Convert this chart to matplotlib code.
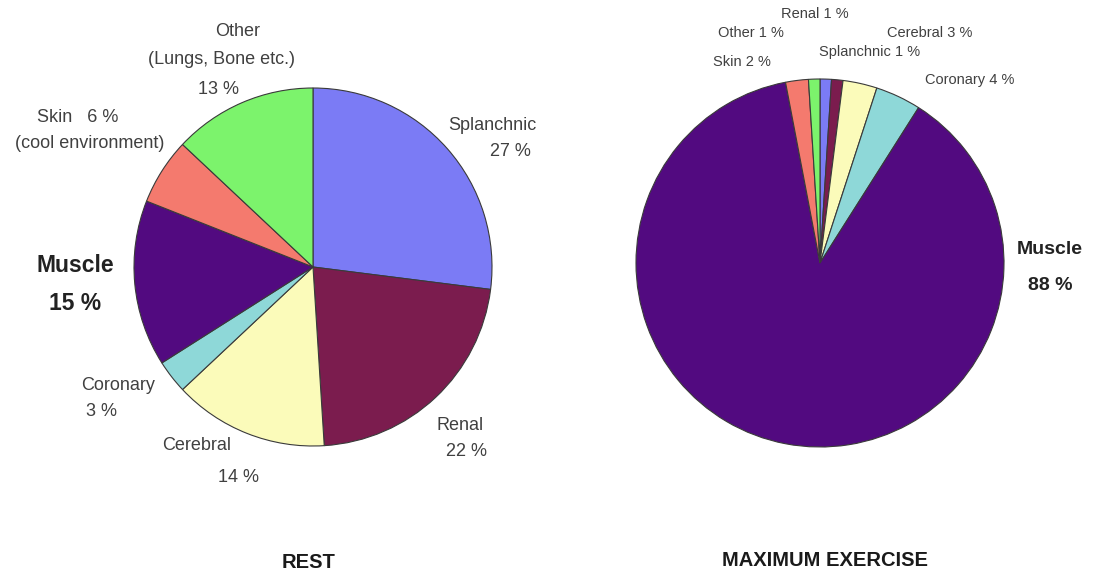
import matplotlib.pyplot as plt

plt.rcParams['font.family'] = ['Liberation Sans', 'DejaVu Sans']

# slice order, clockwise from 12 o'clock
organs = ["Splanchnic", "Renal", "Cerebral", "Coronary", "Muscle", "Skin", "Other"]
rest_pct = [27, 22, 14, 3, 15, 6, 13]
exercise_pct = [1, 1, 3, 4, 88, 2, 1]

colors = ["#7B7BF5", "#7B1C4E", "#FBFBBA", "#8ED8D8", "#520A80", "#F47A6E", "#7CF36C"]

W, H = 1099, 573
fig = plt.figure(figsize=(W / 100, H / 100), dpi=100)
ax = fig.add_axes([0, 0, 1, 1])

wedge_kw = dict(edgecolor="#3a3a3a", linewidth=0.8)
ax.pie(rest_pct, colors=colors, startangle=90, counterclock=False,
       center=(313, H - 267), radius=179, wedgeprops=wedge_kw)
ax.pie(exercise_pct, colors=colors, startangle=90, counterclock=False,
       center=(820, H - 263), radius=184, wedgeprops=wedge_kw)

ax.set_xlim(0, W)
ax.set_ylim(0, H)
ax.set_aspect("equal")
ax.axis("off")

GRAY = "#404040"


def label(x, y, s, size=13, bold=False, color=GRAY, ha="center"):
    ax.text(x, H - y, s, fontsize=size, fontweight="bold" if bold else "normal",
            color=color, ha=ha, va="center")


# REST labels
label(238, 32, "Other")
label(222, 60, "(Lungs, Bone etc.)")
label(218, 90, "13 %")
label(78, 117, "Skin   6 %")
label(90, 143, "(cool environment)")
label(492, 125, "Splanchnic")
label(510, 152, "27 %")
label(75, 266, "Muscle", size=16.5, bold=True, color="#222222")
label(75, 303, "15 %", size=16.5, bold=True, color="#222222")
label(118, 385, "Coronary")
label(101, 412, "3 %")
label(197, 445, "Cerebral")
label(238, 478, "14 %")
label(460, 425, "Renal")
label(466, 452, "22 %")

# MAXIMUM EXERCISE labels
label(815, 14, "Renal 1 %", size=10.5)
label(751, 33, "Other 1 %", size=10.5)
label(930, 33, "Cerebral 3 %", size=10.5)
label(870, 52, "Splanchnic 1 %", size=10.5)
label(742, 62, "Skin 2 %", size=10.5)
label(970, 80, "Coronary 4 %", size=10.5)
label(1050, 249, "Muscle", size=14, bold=True, color="#222222")
label(1050, 286, "88 %", size=14, bold=True, color="#222222")

label(309, 562, "REST", size=14.5, bold=True, color="#1a1a1a")
label(825, 561, "MAXIMUM EXERCISE", size=14.5, bold=True, color="#1a1a1a")

fig.savefig("out.png", dpi=100, facecolor="white")
